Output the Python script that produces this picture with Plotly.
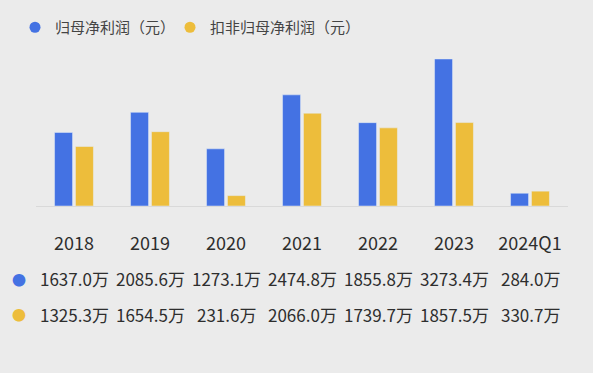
import plotly.graph_objects as go

categories = ["2018", "2019", "2020", "2021", "2022", "2023", "2024Q1"]
series_names = ["归母净利润（元）", "扣非归母净利润（元）"]
net_profit = [1637.0, 2085.6, 1273.1, 2474.8, 1855.8, 3273.4, 284.0]
net_profit_deducted = [1325.3, 1654.5, 231.6, 2066.0, 1739.7, 1857.5, 330.7]

BLUE = "#4472E3"
YELLOW = "#EDBD3B"
BG = "#EBEBEB"
TXT = "#2E2E2E"
FONT = "Noto Sans CJK SC"

W, H = 593, 373
ML, MR, MT, MB = 36, 25, 50, 167
plot_w = W - ML - MR
plot_h = H - MT - MB

fig = go.Figure()
fig.add_trace(go.Bar(x=categories, y=net_profit, marker_color=BLUE, showlegend=False))
fig.add_trace(go.Bar(x=categories, y=net_profit_deducted, marker_color=YELLOW, showlegend=False))

# legend entries with circle markers, each in its own legend
for name, col, lg in zip(series_names, [BLUE, YELLOW], ["legend", "legend2"]):
    fig.add_trace(go.Scatter(x=[None], y=[None], mode="markers", name=name, legend=lg,
                             marker=dict(color=col, size=11, symbol="circle")))

def paper_y(px):
    return (H - MB - px) / plot_h

def paper_x(px):
    return (px - ML) / plot_w

rows = [(net_profit, BLUE, 279), (net_profit_deducted, YELLOW, 315)]
for vals, col, py in rows:
    fig.add_annotation(x=paper_x(19), xref="paper", xanchor="center",
                       y=paper_y(py), yref="paper", yanchor="middle",
                       text="●", showarrow=False,
                       font=dict(size=14, color=col, family=FONT))
    for i, v in enumerate(vals):
        fig.add_annotation(x=i, xref="x", y=paper_y(py), yref="paper", yanchor="middle",
                           text=f"{v:.1f}万", showarrow=False,
                           font=dict(size=17, color=TXT, family=FONT))

leg_common = dict(orientation="h", xanchor="left", y=paper_y(11), yanchor="top",
                  font=dict(size=15, color="#444444", family=FONT),
                  bgcolor="rgba(0,0,0,0)", itemclick=False)

fig.update_layout(
    width=W, height=H,
    margin=dict(l=ML, r=MR, t=MT, b=MB),
    paper_bgcolor=BG, plot_bgcolor=BG,
    barmode="group", bargap=0.45, bargroupgap=0.14,
    font=dict(family=FONT, color=TXT),
    legend=dict(x=paper_x(15), **leg_common),
    legend2=dict(x=paper_x(170), **leg_common),
    xaxis=dict(type="category", range=[-0.5, 6.5], showgrid=False, zeroline=False,
               showline=True, linecolor="#D9D9D9", linewidth=1, ticks="",
               tickfont=dict(size=18, color=TXT, family=FONT),
               ticklabelstandoff=21),
    yaxis=dict(range=[0, 3451], visible=False, showgrid=False),
)

fig.write_html("out.html", config={"displayModeBar": False},
               post_script="document.body.style.margin='0';document.body.style.background='#EBEBEB';")
